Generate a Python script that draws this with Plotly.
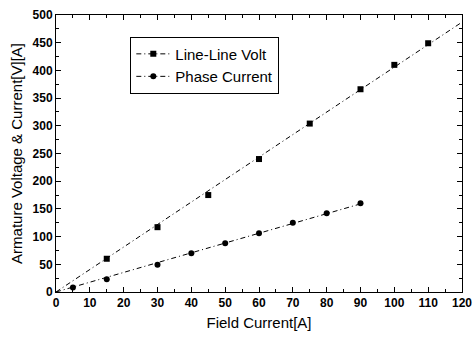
import numpy as np
import plotly.graph_objects as go

# Data
volt_x = [15, 30, 45, 60, 75, 90, 100, 110]
volt_y = [60, 117, 175, 240, 304, 366, 410, 449]
curr_x = [5, 15, 30, 40, 50, 60, 70, 80, 90]
curr_y = [8, 23, 49, 70, 88, 106, 125, 142, 160]
volt_fit_range = [0, 120]
curr_fit_range = [0, 90]
series_names = ["Line-Line Volt", "Phase Current"]


def slope_through_origin(x, y):
    x = np.asarray(x, float)
    y = np.asarray(y, float)
    return float((x * y).sum() / (x * x).sum())


vs = slope_through_origin(volt_x, volt_y)
cs = slope_through_origin(curr_x, curr_y)
vfx = np.array(volt_fit_range, float)
cfx = np.array(curr_fit_range, float)

dash = "5px,3px,1px,3px"
fig = go.Figure()
# fit lines
fig.add_trace(go.Scatter(x=vfx, y=vs * vfx, mode="lines",
                         line=dict(color="black", width=1, dash=dash), showlegend=False))
fig.add_trace(go.Scatter(x=cfx, y=cs * cfx, mode="lines",
                         line=dict(color="black", width=1, dash=dash), showlegend=False))
# data points
fig.add_trace(go.Scatter(x=volt_x, y=volt_y, mode="markers",
                         marker=dict(symbol="square", size=6, color="black"), showlegend=False))
fig.add_trace(go.Scatter(x=curr_x, y=curr_y, mode="markers",
                         marker=dict(symbol="circle", size=6, color="black"), showlegend=False))
# legend entries
fig.add_trace(go.Scatter(x=[None], y=[None], mode="lines+markers", name=series_names[0],
                         line=dict(color="black", width=1, dash=dash),
                         marker=dict(symbol="square", size=6, color="black")))
fig.add_trace(go.Scatter(x=[None], y=[None], mode="lines+markers", name=series_names[1],
                         line=dict(color="black", width=1, dash=dash),
                         marker=dict(symbol="circle", size=6, color="black")))

axis_common = dict(showline=True, linecolor="black", linewidth=1, mirror="ticks",
                   ticks="inside", ticklen=5, tickcolor="black", showgrid=False, zeroline=False,
                   automargin=False,
                   tickfont=dict(family="Liberation Sans", size=12, color="black", weight="bold"))
fig.update_xaxes(range=[0, 120], dtick=10, tick0=0,
                 minor=dict(ticks="inside", ticklen=3, dtick=5, tickcolor="black"),
                 title=dict(text="Field Current[A]", font=dict(family="Liberation Sans", size=15, color="black"),
                            standoff=8),
                 **axis_common)
fig.update_yaxes(range=[0, 500], dtick=50, tick0=0,
                 minor=dict(ticks="inside", ticklen=3, dtick=25, tickcolor="black"),
                 title=dict(text="Armature Voltage & Current[V][A]",
                            font=dict(family="Liberation Sans", size=15, color="black"), standoff=6),
                 **axis_common)
fig.update_layout(width=473, height=337, margin=dict(l=56, r=11, t=15, b=45),
                  plot_bgcolor="white", paper_bgcolor="white",
                  legend=dict(x=0.183, y=0.922, xanchor="left", yanchor="top",
                              bordercolor="black", borderwidth=1, bgcolor="white",
                              font=dict(family="Liberation Sans", size=15, color="black"),
                              tracegroupgap=0, itemwidth=34))
fig.write_html("out.html", config={"displayModeBar": False},
               post_script="document.body.style.margin='0';document.body.style.overflow='hidden';")
